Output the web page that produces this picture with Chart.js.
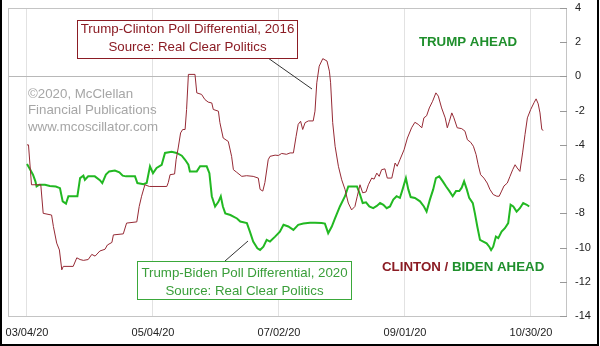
<!DOCTYPE html>
<html>
<head>
<meta charset="utf-8">
<script src="https://cdn.jsdelivr.net/npm/chart.js@4.4.1/dist/chart.umd.min.js"></script>
<style>
  body { margin: 0; background: #fff; }
  #c { display: block; }
</style>
</head>
<body>
<canvas id="c" width="600" height="346"></canvas>
<script>
// trading-day index, 0 = 03/04/20
const tickDays = [0, 42, 84, 126, 168];
const tickLabels = ['03/04/20', '05/04/20', '07/02/20', '09/01/20', '10/30/20'];
const yTicks = [4, 2, 0, -2, -4, -6, -8, -10, -12, -14];

// Trump-Clinton 2016 (red)
const clintonDay = [0, 0.5, 1.5, 4.6, 5.4, 8.2, 8.8, 9.9, 10.8, 11.6, 12.1, 15.4, 16.6, 17.7, 18.8, 20.4, 21.6, 22.7, 24.3, 26,
  26.8, 28.3, 28.8, 32.1, 33.2, 36.6, 37.4, 38.2, 39.3, 40.8, 46.6, 47.1, 47.7, 49.2, 49.7, 50.4, 51.2, 51.9, 52.7, 53.2,
  53.8, 56, 56.6, 58.2, 59.3, 60.4, 61.6, 62.1, 63.8, 64.3, 65.4, 67.1, 68.2, 68.8, 69.9, 71.6, 73.2, 75.4, 77.1, 77.7,
  78.6, 79.3, 80.4, 81, 82.7, 83.8, 84.9, 86.5, 87.7, 88.8, 89.7, 90.4, 91.2, 91.9, 92.7, 93.8, 95.4, 96, 96.6, 97.4,
  98.6, 100, 100.8, 101.2, 101.9, 102.7, 103.8, 104.9, 106, 107.1, 108.2, 109.3, 110.1, 111, 111.9, 113, 113.8, 114.9, 115.7, 116.6,
  117.4, 118.2, 119.3, 120.1, 121.6, 122.7, 123.4, 124.3, 125.7, 126.8, 128.2, 129.3, 130.4, 131.6, 132.3, 133.2, 134.1, 135.2, 136.3, 137.1,
  138.2, 139.4, 140.1, 140.8, 141.6, 142.3, 143.4, 144.9, 146, 146.8, 147.9, 148.8, 149.7, 150.4, 151.2, 152.3, 153.4, 154.3, 155.4, 156.6,
  157.4, 158.2, 159, 160.1, 161, 161.9, 162.7, 163.4, 164.3, 165.2, 166, 166.8, 167.9, 169, 169.7, 170.4, 171, 171.6, 172.1];
const clintonVal = [-4.0, -4.0, -6.33, -6.33, -8.0, -8.1, -8.77, -9.74, -10.14, -11.3, -11.1, -11.1, -10.6, -10.7, -10.75, -10.7, -10.4, -10.5, -10.2, -10.1,
  -9.85, -9.7, -9.26, -9.2, -8.57, -8.5, -7.6, -7.0, -6.33, -6.43, -6.43, -6.2, -5.74, -5.7, -4.87, -4.18, -3.3, -3.1, -3.1, -1.93,
  0.12, 0.12, -0.96, -1.05, -1.35, -1.5, -1.55, -1.93, -2.03, -2.7, -3.6, -3.8, -4.67, -5.45, -5.6, -5.84, -5.8, -5.84, -5.94, -6.6,
  -6.7, -6.2, -4.87, -4.67, -4.6, -4.62, -4.5, -4.55, -4.47, -4.47, -3.5, -2.8, -2.62, -3.1, -2.7, -2.6, -2.6, -2.03, -0.37, 0.6,
  1.04, 0.9, 0.31, -0.37, -2.7, -4.08, -5.25, -6.04, -6.6, -7.4, -7.8, -7.6, -7.0, -6.33, -6.8, -6.75, -6.33, -5.94, -6.0, -5.65,
  -5.84, -5.45, -5.4, -5.94, -5.94, -5.06, -5.25, -4.87, -4.28, -3.6, -3.0, -2.68, -2.8, -3.0, -2.42, -2.3, -1.84, -1.45, -0.96, -1.15,
  -1.84, -2.42, -3.0, -2.62, -2.13, -2.42, -3.0, -3.05, -3.2, -3.7, -3.85, -4.08, -4.57, -5.16, -5.74, -5.94, -6.23, -6.6, -6.9, -7.0,
  -7.0, -6.7, -6.4, -6.23, -5.84, -5.45, -5.16, -5.35, -5.55, -4.47, -3.4, -2.42, -1.93, -1.54, -1.31, -1.6, -2.13, -3.1, -3.15];

// Trump-Biden 2020 (green)
const bidenDay = [0, 1.1, 2, 2.8, 3.2, 4.1, 6, 7.6, 9.6, 11, 11.9, 13, 13.8, 16.8, 17.7, 18.8, 19.3, 20.4, 22.6, 24.3,
  25.1, 26.3, 27.4, 29.3, 30.8, 31.9, 33, 36, 36.8, 38.8, 39.9, 41, 42, 43.2, 44.9, 46, 48.2, 49.9, 51.6, 52.7,
  53.8, 54.3, 56.6, 57.7, 59.9, 60.8, 61.6, 62.7, 63.8, 64.6, 65.3, 66.1, 67.8, 70, 71.1, 73.3, 74.3, 75.4, 76.8, 77.7,
  78.8, 79.9, 81, 82.7, 84.3, 85.5, 87.1, 88.8, 90.4, 92.1, 94.3, 96, 98.2, 99.3, 100.4, 101.6, 102.7, 104.3, 106, 107.1,
  110, 111, 111.9, 113, 114.1, 115.4, 116.6, 117.7, 118.8, 119.9, 121, 122.1, 123.2, 124.3, 125.2, 126.3, 127.1, 127.9, 129.3, 131,
  132.3, 133.2, 134.3, 135.4, 136.3, 137.4, 138.6, 139.7, 140.8, 141.9, 143, 144.1, 144.9, 145.7, 146.6, 147.4, 148.6, 149.3, 150.1, 151,
  152.1, 153.2, 154.1, 154.7, 155.4, 156.3, 157.1, 158.2, 159.3, 160.4, 161.2, 162.1, 163.2, 164.3, 165.4, 166.6, 167.4];
const bidenVal = [-5.12, -5.45, -5.74, -6.13, -6.43, -6.33, -6.33, -6.4, -6.43, -6.53, -7.3, -7.43, -7.0, -7.0, -5.94, -5.8, -6.04, -5.84, -5.84, -6.06,
  -6.23, -5.74, -5.55, -5.5, -5.6, -5.8, -5.84, -5.84, -6.23, -6.3, -6.23, -5.25, -5.65, -5.35, -5.16, -4.47, -4.4, -4.47, -4.63, -4.87,
  -5.16, -5.55, -5.55, -5.25, -5.25, -5.65, -7.0, -7.6, -7.33, -7.0, -7.6, -8.0, -8.1, -8.3, -8.48, -8.57, -9.07, -9.65, -10.04, -10.14,
  -9.95, -9.55, -9.65, -9.36, -9.07, -8.67, -8.77, -8.97, -8.67, -8.6, -8.55, -8.55, -8.57, -8.6, -9.16, -8.77, -8.28, -7.6, -7.0, -6.43,
  -6.43, -6.9, -7.4, -7.36, -7.6, -7.7, -7.57, -7.4, -7.5, -7.7, -7.6, -7.2, -7.0, -7.1, -6.6, -5.94, -6.6, -7.05, -7.1, -7.3,
  -7.6, -7.9, -7.2, -6.6, -5.94, -5.84, -6.13, -6.43, -6.7, -7.0, -6.7, -6.7, -6.5, -6.13, -6.6, -7.1, -7.4, -8.0, -8.77, -9.55,
  -9.65, -9.75, -9.95, -10.14, -9.95, -9.36, -9.45, -9.07, -8.87, -8.57, -7.5, -7.6, -7.9, -7.7, -7.4, -7.5, -7.6];

const FONT = 'Arial, "Liberation Sans", sans-serif';
const RED = '#8b1c24';
const RED_LINE = '#962a35';
const GREEN_LINE = '#22b822';
const GREEN_TEXT = '#1f8f2c';

function pts(days, vals) {
  return days.map((d, i) => ({ x: d, y: vals[i] }));
}

const decor = {
  id: 'decor',
  beforeDraw(chart) {
    const ctx = chart.ctx;
    ctx.save();
    ctx.fillStyle = '#fff';
    ctx.fillRect(0, 0, chart.width, chart.height);
    ctx.restore();
  },
  beforeDatasetsDraw(chart) {
    const ctx = chart.ctx;
    const a = chart.chartArea;
    const ys = chart.scales.y;
    ctx.save();
    // plot frame
    ctx.strokeStyle = '#c4c4c4';
    ctx.lineWidth = 1;
    ctx.strokeRect(a.left + 0.5, a.top + 0.5, a.right - a.left - 1, a.bottom - a.top);
    // inner tick marks on the right
    ctx.strokeStyle = '#999';
    yTicks.forEach(v => {
      const y = Math.round(ys.getPixelForValue(v)) + 0.5;
      ctx.beginPath();
      ctx.moveTo(a.right - 7, y);
      ctx.lineTo(a.right, y);
      ctx.stroke();
    });
    // watermark
    ctx.fillStyle = '#a6a6a6';
    ctx.font = '13.3px ' + FONT;
    ctx.textBaseline = 'middle';
    ctx.textAlign = 'left';
    ctx.fillText('\u00A92020, McClellan', 28, 94);
    ctx.fillText('Financial Publications', 28, 110.5);
    ctx.fillText('www.mcoscillator.com', 28, 127);
    ctx.restore();
  },
  afterDraw(chart) {
    const ctx = chart.ctx;
    ctx.save();
    ctx.textBaseline = 'middle';
    ctx.font = '13.3px ' + FONT;

    // leader lines
    ctx.strokeStyle = '#333';
    ctx.lineWidth = 1;
    ctx.beginPath();
    ctx.moveTo(268, 58);
    ctx.lineTo(312, 89);
    ctx.moveTo(225, 261);
    ctx.lineTo(248, 241);
    ctx.stroke();

    // Clinton box
    ctx.fillStyle = '#fff';
    ctx.fillRect(77, 20, 221, 38);
    ctx.strokeStyle = RED;
    ctx.strokeRect(77.5, 20.5, 220, 38);
    ctx.fillStyle = RED;
    ctx.textAlign = 'center';
    ctx.fillText('Trump-Clinton Poll Differential, 2016', 187.5, 29.5);
    ctx.fillText('Source: Real Clear Politics', 187.5, 47.5);

    // Biden box
    ctx.fillStyle = '#fff';
    ctx.fillRect(137, 261, 215, 39);
    ctx.strokeStyle = '#3aa83a';
    ctx.strokeRect(137.5, 261.5, 214, 38);
    ctx.fillStyle = '#3a9e3a';
    ctx.fillText('Trump-Biden Poll Differential, 2020', 244.5, 273);
    ctx.fillText('Source: Real Clear Politics', 244.5, 291);

    // side labels
    ctx.font = 'bold 13.3px ' + FONT;
    ctx.fillStyle = GREEN_TEXT;
    ctx.fillText('TRUMP AHEAD', 468, 42);
    ctx.textAlign = 'left';
    const p1 = 'CLINTON / ';
    ctx.fillStyle = RED;
    ctx.fillText('CLINTON /', 382, 267);
    ctx.fillStyle = GREEN_TEXT;
    ctx.fillText('BIDEN AHEAD', 382 + ctx.measureText(p1).width, 267);

    // outer frame
    ctx.fillStyle = '#000';
    ctx.fillRect(0, 0, 2, chart.height);
    ctx.fillRect(597, 0, 2, chart.height);
    ctx.fillRect(0, 344, 599, 2);
    ctx.restore();
  }
};

new Chart(document.getElementById('c'), {
  type: 'line',
  data: {
    datasets: [
      {
        label: 'Trump-Clinton 2016',
        data: pts(clintonDay, clintonVal),
        borderColor: RED_LINE,
        borderWidth: 1,
        pointRadius: 0,
        tension: 0,
        fill: false
      },
      {
        label: 'Trump-Biden 2020',
        data: pts(bidenDay, bidenVal),
        borderColor: GREEN_LINE,
        borderWidth: 2,
        pointRadius: 0,
        tension: 0,
        fill: false
      }
    ]
  },
  options: {
    responsive: false,
    animation: false,
    layout: { autoPadding: false, padding: { left: 8, top: 8, right: 0, bottom: 0 } },
    plugins: {
      legend: { display: false },
      tooltip: { enabled: false }
    },
    scales: {
      x: {
        type: 'linear',
        min: -6.33,
        max: 180,
        afterFit(s) {
          s.height = 30;
          s.paddingLeft = 0;
          s.paddingRight = 0;
        },
        afterBuildTicks(s) { s.ticks = tickDays.map(v => ({ value: v })); },
        ticks: {
          autoSkip: false,
          maxRotation: 0,
          padding: 10,
          color: '#222',
          font: { family: FONT, size: 11 },
          callback: (v) => tickLabels[tickDays.indexOf(v)]
        },
        grid: { color: '#e2e2e2', drawTicks: false },
        border: { display: false }
      },
      y: {
        position: 'right',
        min: -14,
        max: 4,
        afterFit(s) {
          s.width = 33;
          s.paddingTop = 0;
          s.paddingBottom = 0;
        },
        afterBuildTicks(s) { s.ticks = yTicks.map(v => ({ value: v })); },
        ticks: {
          padding: 8,
          color: '#222',
          font: { family: FONT, size: 11 }
        },
        grid: {
          drawTicks: false,
          color: (c) => (c.tick && c.tick.value === 0 ? '#b8b8b8' : 'rgba(0,0,0,0)')
        },
        border: { display: false }
      }
    }
  },
  plugins: [decor]
});
</script>
</body>
</html>
